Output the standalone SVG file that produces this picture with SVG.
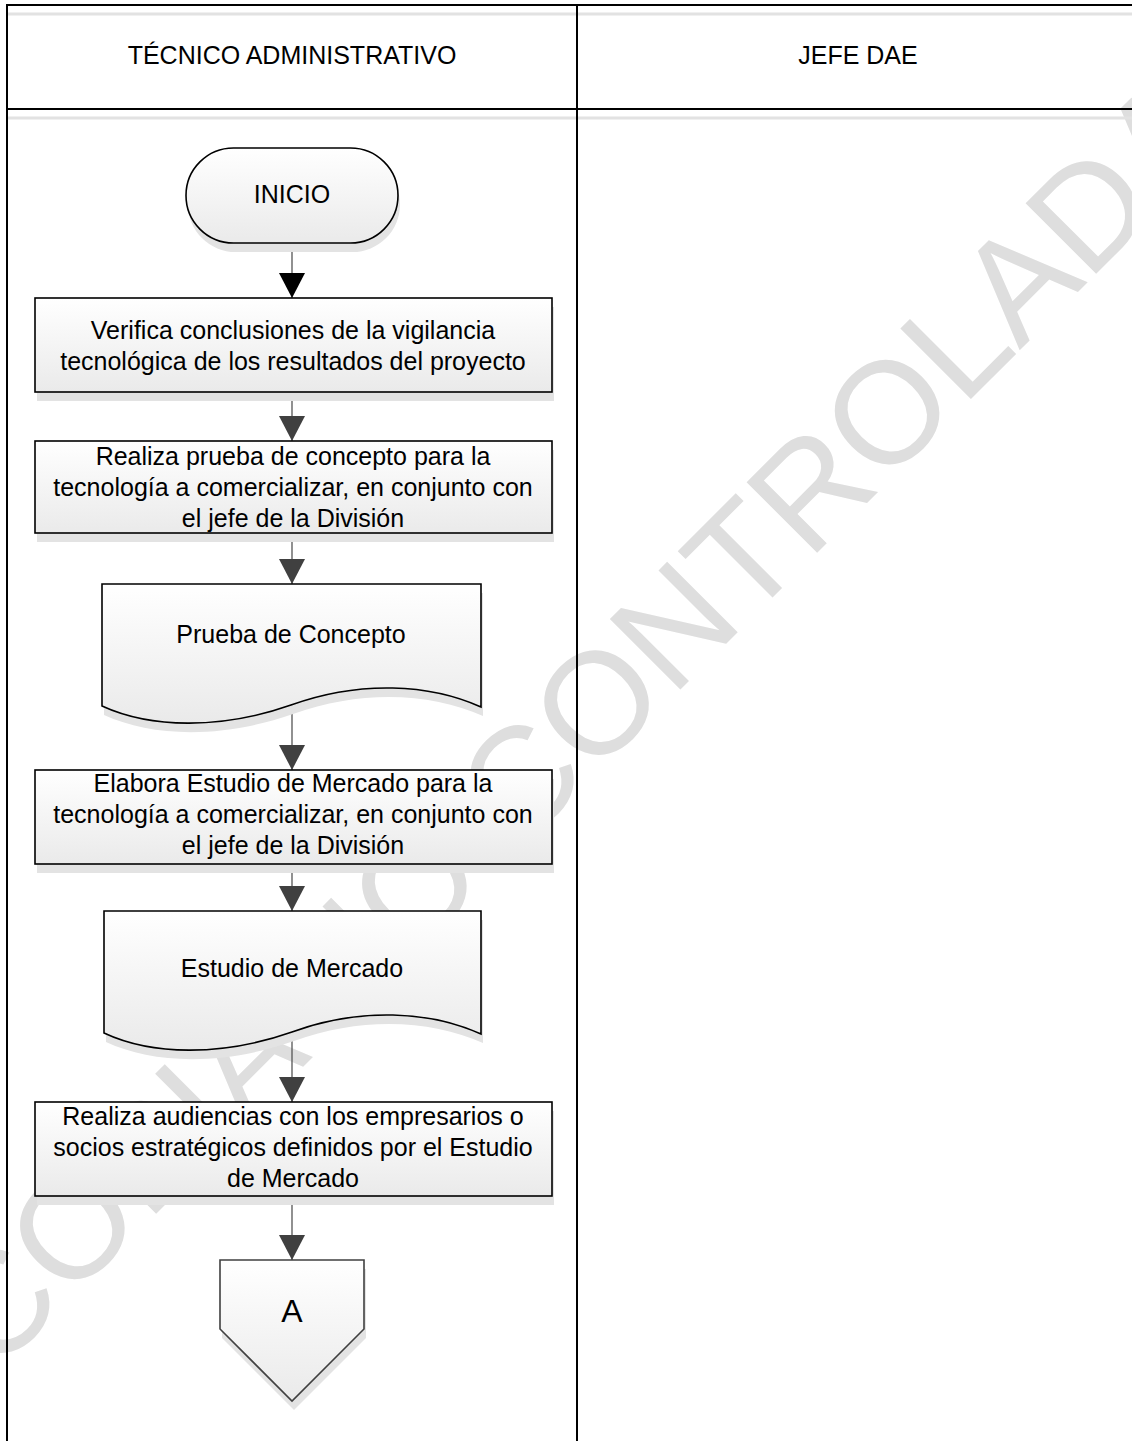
<svg xmlns="http://www.w3.org/2000/svg" width="1132" height="1441" viewBox="0 0 1132 1441">
<defs>
  <linearGradient id="g" x1="0" y1="0" x2="0" y2="1">
    <stop offset="0" stop-color="#ffffff"/>
    <stop offset="1" stop-color="#eaeaea"/>
  </linearGradient>
  <marker id="ahB" markerWidth="25" markerHeight="26" refX="25" refY="13" orient="auto" markerUnits="userSpaceOnUse">
    <path d="M0,0 L25,13 L0,26 Z" fill="#000"/>
  </marker>
  <marker id="ahG" markerWidth="25" markerHeight="26" refX="25" refY="13" orient="auto" markerUnits="userSpaceOnUse">
    <path d="M0,0 L25,13 L0,26 Z" fill="#404040"/>
  </marker>
</defs>
<style>
  .t{font-family:"Liberation Sans",Arial,sans-serif;font-size:25px;fill:#000;text-anchor:middle}
  .big{font-size:32px}
  .shape{fill:url(#g);stroke:#000;stroke-width:1.6}
  .shapeG{fill:url(#g);stroke:#404040;stroke-width:1.6}
  .shadow{fill:#e3e3e3;stroke:none}
  .conn{stroke:#555555;stroke-width:1.3;fill:none}
  .lane{stroke:#000;stroke-width:2;fill:none}
  .lgray{stroke:#e2e2e2;stroke-width:3;fill:none}
  .wm{font-family:"Liberation Sans",Arial,sans-serif;font-size:145px;fill:#dedede}
</style>
<rect width="1132" height="1441" fill="#fff"/>
<text class="wm" transform="translate(-6,1376) rotate(-45)">COPIA NO CONTROLADA</text>

<g id="lanes">
  <line class="lgray" x1="7" y1="14" x2="1132" y2="14"/>
  <line class="lgray" x1="7" y1="118" x2="1132" y2="118"/>
  <line class="lane" x1="7" y1="5" x2="1132" y2="5"/>
  <line class="lane" x1="7" y1="109" x2="1132" y2="109"/>
  <line class="lane" x1="7" y1="4" x2="7" y2="1441"/>
  <line class="lane" x1="577" y1="4" x2="577" y2="1441"/>
  <text class="t" x="292" y="64">TÉCNICO ADMINISTRATIVO</text>
  <text class="t" x="858" y="64">JEFE DAE</text>
</g>

<g id="connectors">
  <line class="conn" x1="292" y1="243" x2="292" y2="298" marker-end="url(#ahB)"/>
  <line class="conn" x1="292" y1="392" x2="292" y2="441" marker-end="url(#ahG)"/>
  <line class="conn" x1="292" y1="533" x2="292" y2="584" marker-end="url(#ahG)"/>
  <line class="conn" x1="292" y1="705" x2="292" y2="770" marker-end="url(#ahG)"/>
  <line class="conn" x1="292" y1="864" x2="292" y2="911" marker-end="url(#ahG)"/>
  <line class="conn" x1="292" y1="1032" x2="292" y2="1102" marker-end="url(#ahG)"/>
  <line class="conn" x1="292" y1="1196" x2="292" y2="1260" marker-end="url(#ahG)"/>
</g>

<g id="inicio">
  <rect class="shadow" x="188" y="157" width="212" height="95" rx="47.5"/>
  <rect class="shape" x="186" y="148" width="212" height="95" rx="47.5"/>
  <text class="t" x="292" y="203">INICIO</text>
</g>

<g id="verifica">
  <rect class="shadow" x="37" y="307" width="517" height="94"/>
  <rect class="shape" x="35" y="298" width="517" height="94"/>
  <text class="t" x="293" y="339">Verifica conclusiones de la vigilancia</text>
  <text class="t" x="293" y="370">tecnológica de los resultados del proyecto</text>
</g>

<g id="prueba">
  <rect class="shadow" x="37" y="450" width="517" height="92"/>
  <rect class="shape" x="35" y="441" width="517" height="92"/>
  <text class="t" x="293" y="465">Realiza prueba de concepto para la</text>
  <text class="t" x="293" y="496">tecnología a comercializar, en conjunto con</text>
  <text class="t" x="293" y="527">el jefe de la División</text>
</g>

<g id="doc-prueba">
  <path class="shadow" transform="translate(2,9)" d="M102,584 H481 V707 C430,684 360,680 291,705 C220,730 150,728 102,706 Z"/>
  <path class="shape" d="M102,584 H481 V707 C430,684 360,680 291,705 C220,730 150,728 102,706 Z"/>
  <text class="t" x="291" y="643">Prueba de Concepto</text>
</g>

<g id="elabora">
  <rect class="shadow" x="37" y="779" width="517" height="94"/>
  <rect class="shape" x="35" y="770" width="517" height="94"/>
  <text class="t" x="293" y="792">Elabora Estudio de Mercado para la</text>
  <text class="t" x="293" y="823">tecnología a comercializar, en conjunto con</text>
  <text class="t" x="293" y="854">el jefe de la División</text>
</g>

<g id="doc-estudio">
  <path class="shadow" transform="translate(2,9)" d="M104,911 H481 V1034 C430,1011 360,1007 292,1032 C221,1057 151,1055 104,1033 Z"/>
  <path class="shape" d="M104,911 H481 V1034 C430,1011 360,1007 292,1032 C221,1057 151,1055 104,1033 Z"/>
  <text class="t" x="292" y="977">Estudio de Mercado</text>
</g>

<g id="audiencias">
  <rect class="shadow" x="37" y="1111" width="517" height="94"/>
  <rect class="shape" x="35" y="1102" width="517" height="94"/>
  <text class="t" x="293" y="1125">Realiza audiencias con los empresarios o</text>
  <text class="t" x="293" y="1156">socios estratégicos definidos por el Estudio</text>
  <text class="t" x="293" y="1187">de Mercado</text>
</g>

<g id="conector-a">
  <polygon class="shadow" transform="translate(2,9)" points="220,1260 364,1260 364,1329 292,1401 220,1329"/>
  <polygon class="shapeG" points="220,1260 364,1260 364,1329 292,1401 220,1329"/>
  <text class="t big" x="292" y="1322">A</text>
</g>
</svg>
